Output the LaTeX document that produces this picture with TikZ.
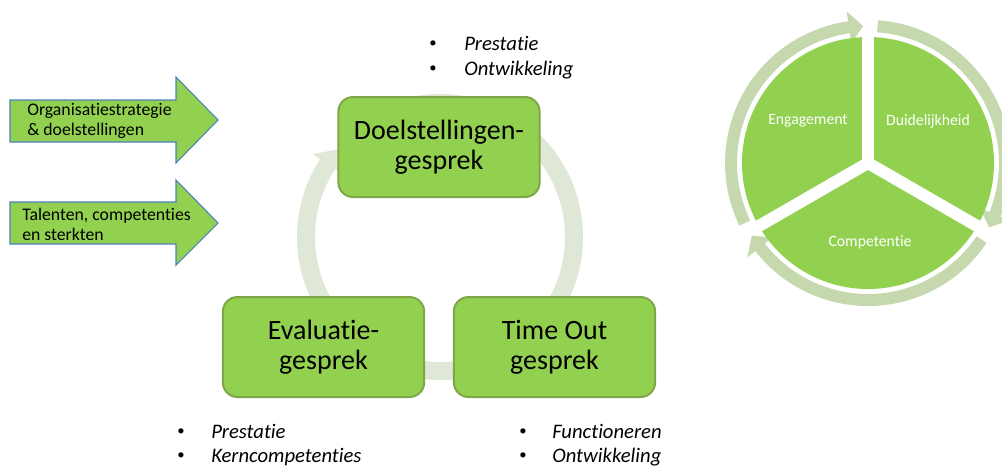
\documentclass[tikz,border=0pt]{standalone}
\usepackage{fontspec}
\setmainfont{Carlito}[RawFeature={-liga;-clig;-calt;-dlig}]
\definecolor{leaf}{HTML}{92D050}
\definecolor{leafedge}{HTML}{7FA647}
\definecolor{ringlight}{HTML}{DFE7D6}
\definecolor{ringpie}{HTML}{C5D8AE}
\definecolor{arrowedge}{HTML}{4F81BD}
% #1 colour, #2 centre, #3 start angle, #4 head base angle, #5 tip angle, #6 inner r, #7 outer r, #8 head half width
\newcommand\ringarrowpiece[8]{%
  \pgfmathsetmacro\RAmid{(#6+#7)/2}%
  \pgfmathsetmacro\RAhi{\RAmid+#8}%
  \pgfmathsetmacro\RAlo{\RAmid-#8}%
  \fill[#1,shift={#2}] (#3:#7) arc[start angle=#3,end angle=#4,radius=#7]
    -- (#4:\RAhi) -- (#5:\RAmid) -- (#4:\RAlo) -- (#4:#6)
    arc[start angle=#4,end angle=#3,radius=#6] -- cycle;}
\tikzset{
  stage/.style={draw=leafedge, fill=leaf, line width=1.5pt, rounded corners=11pt,
    minimum width=151pt, minimum height=75pt, align=center,
    font=\fontsize{21}{22.5}\selectfont},
  inarrow/.style={draw=arrowedge, fill=leaf, line width=0.8pt},
  arrowtext/.style={inner sep=0pt, anchor=west, align=left, font=\fontsize{13.3}{15}\selectfont},
  bul/.style={inner sep=0pt, anchor=center, font=\fontsize{11}{13}\selectfont},
  itemtext/.style={inner sep=0pt, anchor=base west, font=\fontsize{15.5}{18}\selectfont\itshape},
  pietext/.style={inner sep=0pt, text=white, font=\fontsize{11.8}{14}\selectfont}
}
\begin{document}
\begin{tikzpicture}[x=0.75pt,y=0.75pt]
\useasboundingbox (0,0) rectangle (1002,-469);
\clip (0,0) rectangle (1002,-469);

% input arrows
\draw[inarrow] (10,-100) -- (176,-100) -- (176,-77) -- (218,-120) -- (176,-163) -- (176,-142) -- (10,-142) -- cycle;
\draw[inarrow] (10,-202) -- (176,-202) -- (176,-180) -- (218,-223) -- (176,-265) -- (176,-244) -- (10,-244) -- cycle;
\node[arrowtext] (strat) at (27,-121) {Organisatiestrategie\\\& doelstellingen};
\node[arrowtext] (tal) at (22,-224) {Talenten, competenties\\en sterkten};

% cycle ring
\ringarrowpiece{ringlight}{(440,-237)}{490}{147}{139}{125}{143}{18}

% stage boxes
\node[stage] (doel) at (439,-147) {Doelstellingen-\\gesprek};
\node[stage] (eval) at (323.5,-347) {Evaluatie-\\gesprek};
\node[stage] (time) at (554.5,-347) {Time Out\\gesprek};

% bullet lists
\node[bul] (b1) at (433,-44) {\textbullet};
\node[bul] (b2) at (433,-69) {\textbullet};
\node[itemtext] (t1) at (464,-50) {Prestatie};
\node[itemtext] (t2) at (464,-75) {Ontwikkeling};

\node[bul] (b3) at (181,-432) {\textbullet};
\node[bul] (b4) at (181,-456) {\textbullet};
\node[itemtext] (t3) at (211,-438) {Prestatie};
\node[itemtext] (t4) at (211,-462) {Kerncompetenties};

\node[bul] (b5) at (523,-432) {\textbullet};
\node[bul] (b6) at (523,-456) {\textbullet};
\node[itemtext] (t5) at (552,-438) {Functioneren};
\node[itemtext] (t6) at (552,-462) {Ontwikkeling};

% pie with ring arrows
\ringarrowpiece{ringpie}{(868,-163)}{206}{98}{92}{131}{143}{16}
\ringarrowpiece{ringpie}{(868,-163)}{86}{-22}{-28}{131}{143}{16}
\ringarrowpiece{ringpie}{(868,-163)}{-34}{-142}{-148}{131}{143}{16}
\fill[leaf] (868,-163) circle[radius=126];
\draw[white, line width=9pt] (868,-163) -- ++(90:130);
\draw[white, line width=9pt] (868,-163) -- ++(-30:130);
\draw[white, line width=9pt] (868,-163) -- ++(210:130);
\node[pietext] (eng) at (808,-121) {Engagement};
\node[pietext] (dui) at (928,-121) {Duidelijkheid};
\node[pietext] (comp) at (870,-242) {Competentie};
\end{tikzpicture}
\end{document}
